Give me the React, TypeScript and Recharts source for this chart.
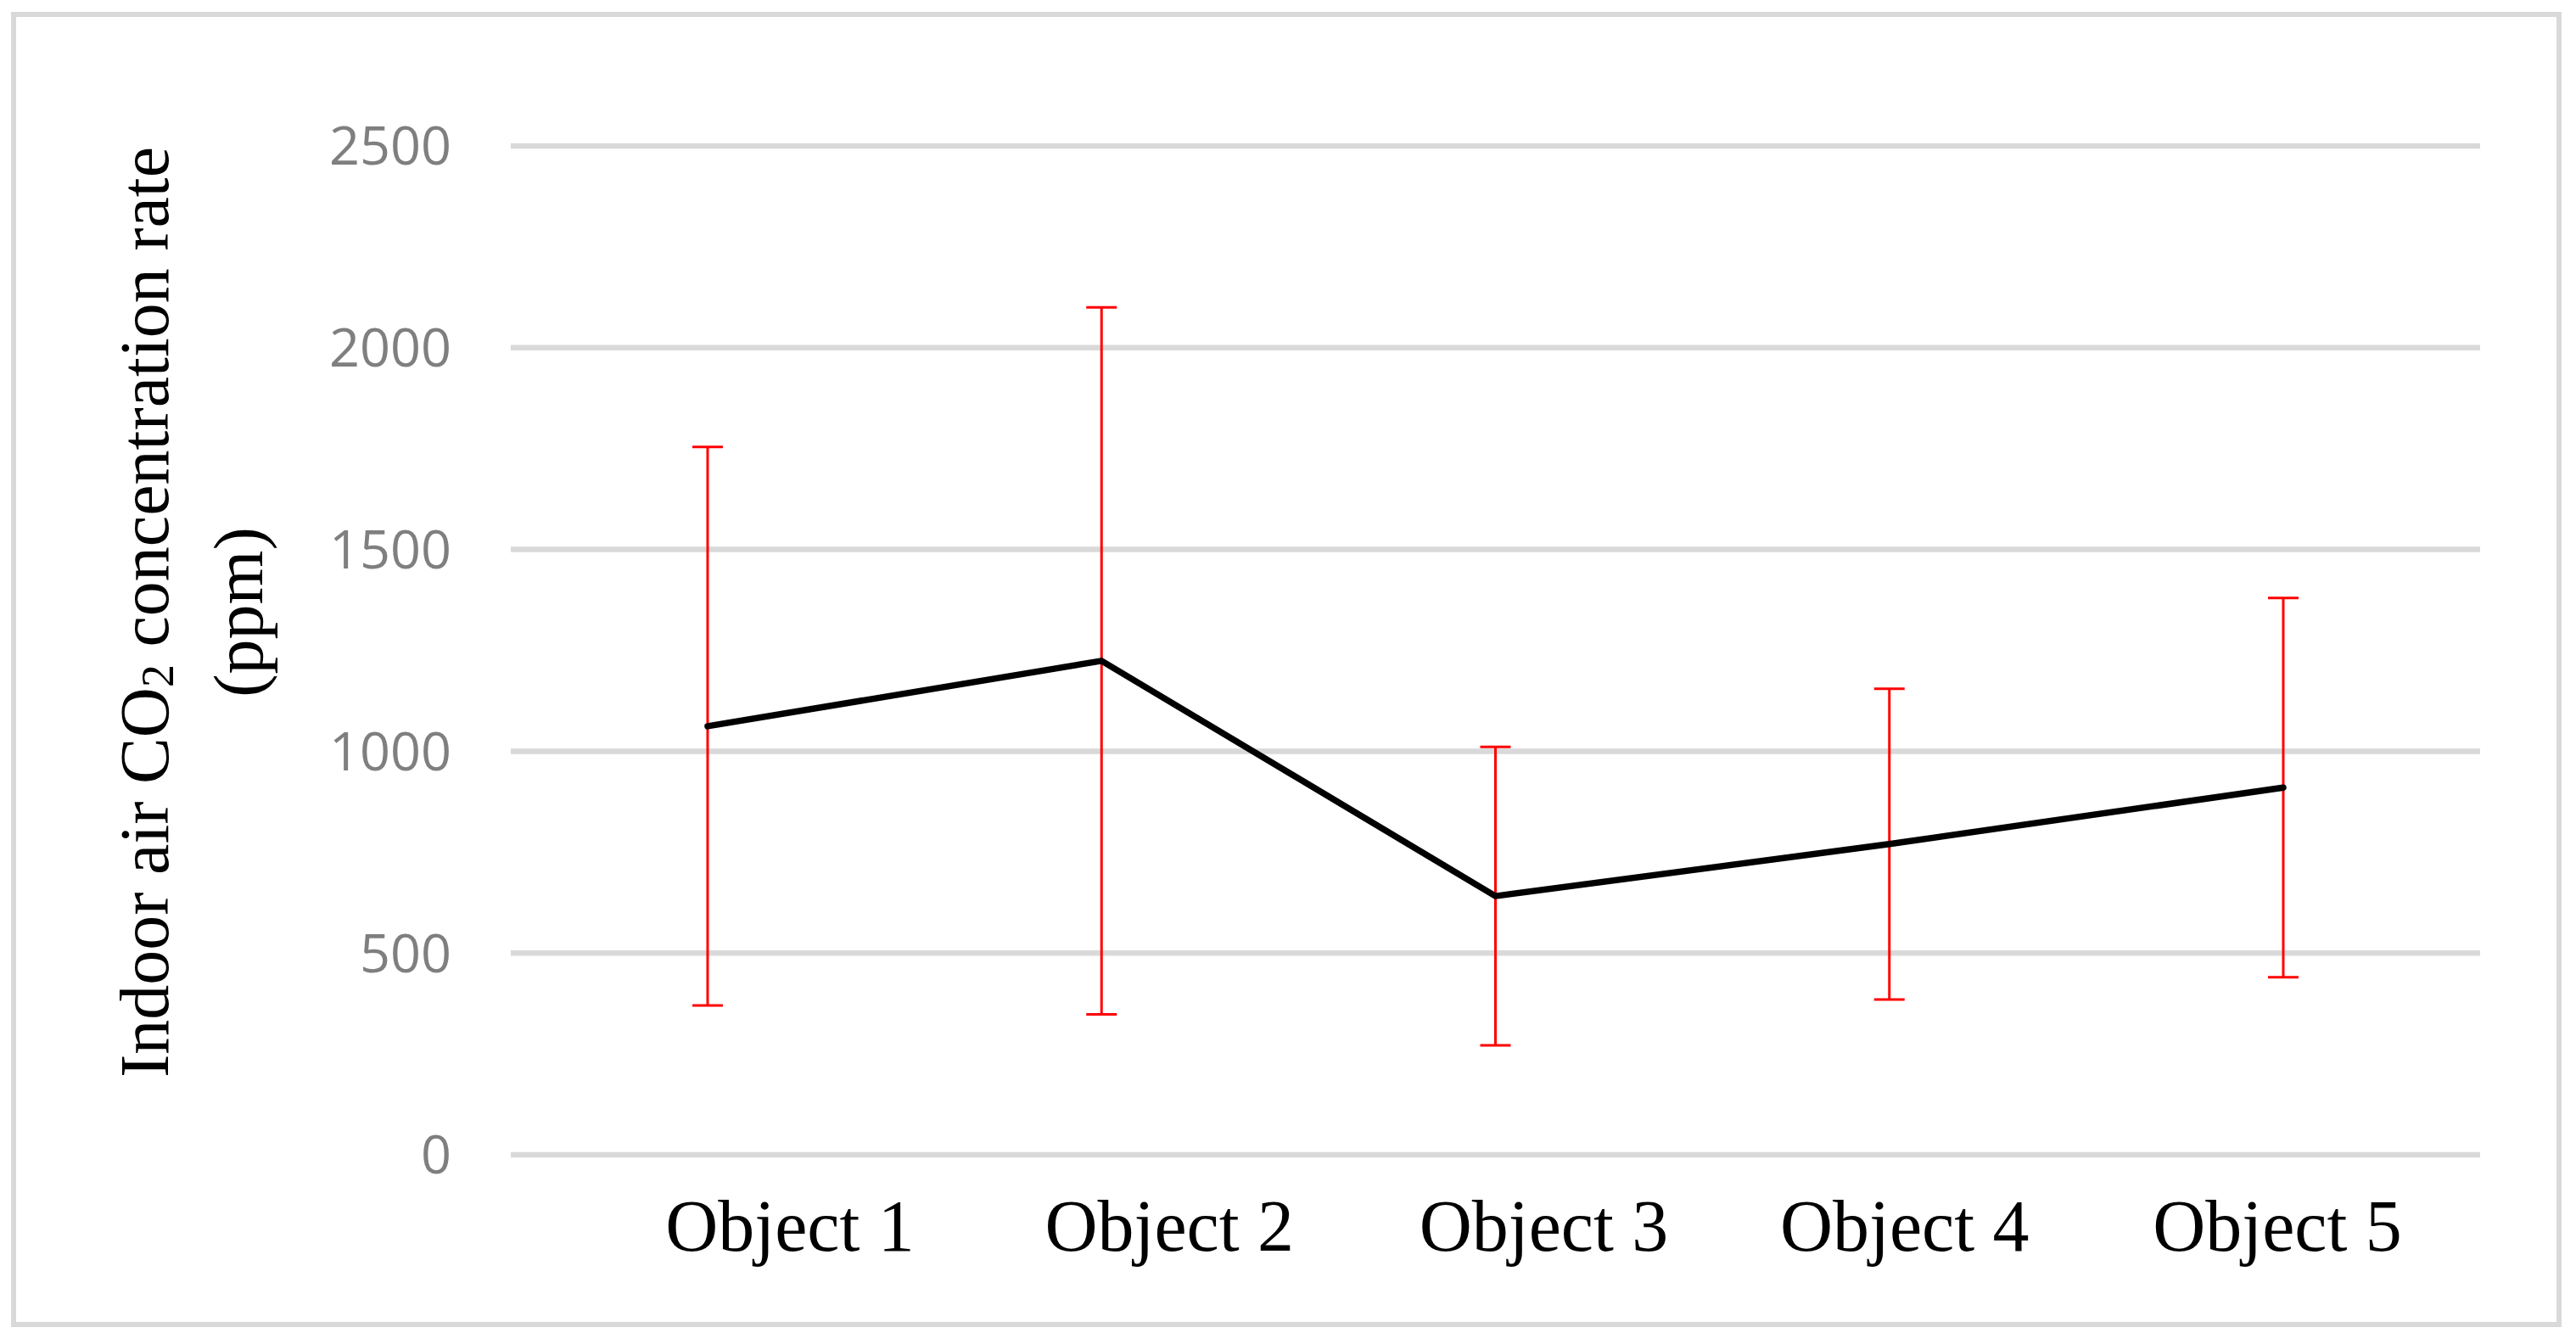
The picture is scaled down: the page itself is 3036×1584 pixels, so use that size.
import React from 'react';
import { LineChart, Line, XAxis, YAxis, CartesianGrid, ErrorBar } from 'recharts';

const objects = ['Object 1', 'Object 2', 'Object 3', 'Object 4', 'Object 5'];
const co2Mean = [1062, 1224, 641, 770, 910];
const co2Err = [692, 876, 370, 385, 470];
const yTicks = [0, 500, 1000, 1500, 2000, 2500];

const data = objects.map((name, i) => ({ name, co2: co2Mean[i], err: co2Err[i] }));

const SERIF = '"Liberation Serif", "Times New Roman", serif';
const SANS = '"Open Sans", "Noto Sans", sans-serif';

// the category labels in the original sit a bit right of their points
const labelNudge = [97, 80, 57, 18, -7];

const CategoryTick = (props: any) => {
  const { x, y, payload, index } = props;
  return (
    <text
      x={x + (labelNudge[index] || 0)}
      y={y}
      dy="0.71em"
      textAnchor="middle"
      fontFamily={SERIF}
      fontSize={86}
      fill="#000"
    >
      {payload.value}
    </text>
  );
};

// two-line rotated y title with a subscript 2
const renderTitle = (props: any) => {
  const { x, y, height } = props.viewBox;
  const cy = y + height / 2 - 45;
  const x1 = x + 170;
  const x2 = x + 281;
  return (
    <g>
      <text
        x={x1}
        y={cy}
        transform={`rotate(-90 ${x1} ${cy})`}
        textAnchor="middle"
        dominantBaseline="central"
        fontFamily={SERIF}
        fontSize={82}
        fill="#000"
      >
        Indoor air CO
        <tspan dy={16} fontSize={54}>2</tspan>
        <tspan dy={-16}> concentration rate</tspan>
      </text>
      <text
        x={x2}
        y={cy}
        transform={`rotate(-90 ${x2} ${cy})`}
        textAnchor="middle"
        dominantBaseline="central"
        fontFamily={SERIF}
        fontSize={82}
        fill="#000"
      >
        (ppm)
      </text>
    </g>
  );
};

export default function App() {
  return (
    <div style={{ position: 'absolute', left: 0, top: 0, width: 3036, height: 1584, background: '#fff' }}>
      <div
        style={{
          position: 'absolute',
          left: 13,
          top: 14,
          width: 3006,
          height: 1550,
          border: '6px solid #d9d9d9',
          boxSizing: 'border-box',
        }}
      />
      <div style={{ position: 'absolute', left: 0, top: 0 }}>
        <LineChart
          width={3036}
          height={1584}
          data={data}
          margin={{ top: 172, right: 113, bottom: 73, left: 0 }}
        >
          <CartesianGrid vertical={false} stroke="#d9d9d9" strokeWidth={6.5} />
          <XAxis
            dataKey="name"
            height={150}
            axisLine={false}
            tickLine={false}
            tickSize={0}
            tickMargin={52}
            padding={{ left: 232, right: 232 }}
            tick={<CategoryTick />}
          />
          <YAxis
            width={602}
            domain={[0, 2500]}
            ticks={yTicks}
            axisLine={false}
            tickLine={false}
            tickSize={0}
            tickMargin={70}
            tick={{ fontFamily: SANS, fontSize: 63, fill: '#7f7f7f' }}
            label={renderTitle}
          />
          <Line
            dataKey="co2"
            stroke="#000"
            strokeWidth={7.5}
            strokeLinecap="round"
            strokeLinejoin="round"
            dot={false}
            activeDot={false}
            isAnimationActive={false}
          >
            <ErrorBar
              dataKey="err"
              direction="y"
              width={18}
              stroke="#ff0000"
              strokeWidth={3}
              isAnimationActive={false}
            />
          </Line>
        </LineChart>
      </div>
    </div>
  );
}
